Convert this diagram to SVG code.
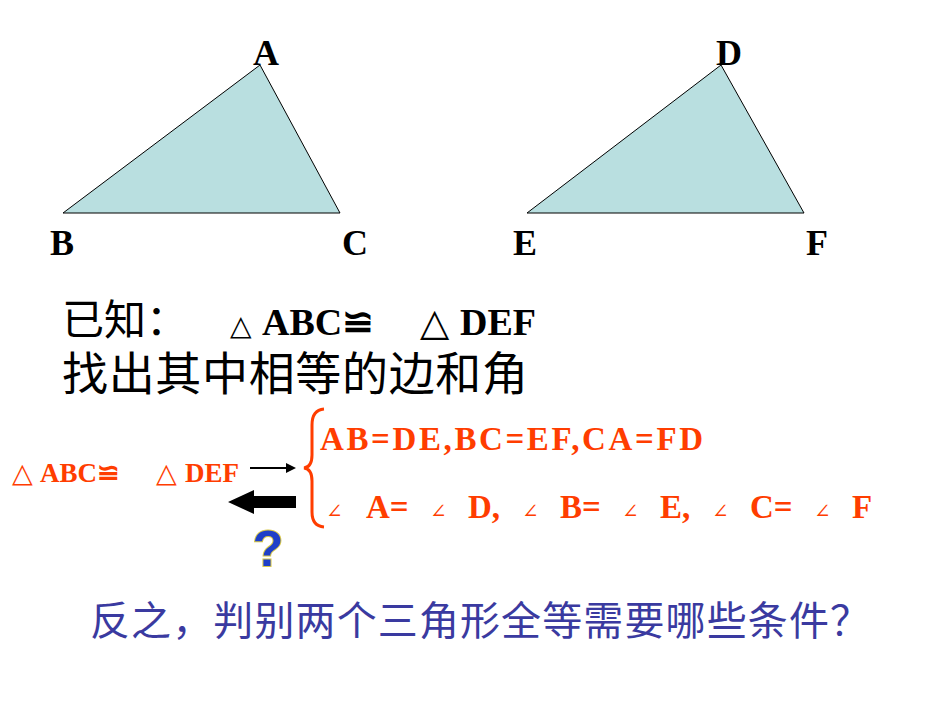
<svg xmlns="http://www.w3.org/2000/svg" width="950" height="713" viewBox="0 0 950 713">
<style>
.tri{fill:#B9DFE0;stroke:#000;stroke-width:1}
.lab{font-family:"Liberation Serif",serif;font-weight:bold;font-size:36px;fill:#000}
.cn{font-family:"Liberation Serif","Noto Sans CJK SC",serif;font-size:42px;fill:#000}
.red{font-family:"Liberation Serif","DejaVu Serif",serif;font-weight:bold;font-size:33px;fill:#FF3D00}
.ang{font-family:"DejaVu Serif",serif;font-size:20px;fill:#FF3D00}
</style>
<rect width="950" height="713" fill="#fff"/>
<g id="triABC"><polygon class="tri" points="260,65 63,213 340,213"/>
<text class="lab" x="253" y="65">A</text><text class="lab" x="50" y="255">B</text><text class="lab" x="342" y="255">C</text></g>
<g id="triDEF"><polygon class="tri" points="721,65 527,213 804,213"/>
<text class="lab" x="716" y="65">D</text><text class="lab" x="513" y="255">E</text><text class="lab" x="806" y="255">F</text></g>
<g id="given">
<text class="cn" x="62" y="335">已知：</text>
<text y="335" style="font-family:'Liberation Serif','DejaVu Serif',serif;font-weight:bold;font-size:38px"><tspan x="230" font-weight="normal" font-size="28">△</tspan><tspan x="262">ABC≌</tspan><tspan x="420" font-weight="normal">△</tspan><tspan x="460">DEF</tspan></text>
<text class="cn" x="62" y="390" textLength="466" style="font-size:46px">找出其中相等的边和角</text>
</g>
<g id="left"><text y="482" style="font-family:'Liberation Serif','DejaVu Serif',serif;font-weight:bold;font-size:27px;fill:#FF3D00"><tspan x="12" font-weight="normal">△</tspan><tspan x="40">ABC≌</tspan><tspan x="156" font-weight="normal">△</tspan><tspan x="185">DEF</tspan></text></g>
<g id="connectors">
<line x1="250" y1="468" x2="288" y2="468" stroke="#000" stroke-width="2"/>
<polygon points="296,468 286,463 286,473" fill="#000"/>
<polygon points="228,502 254,490 254,496 296,496 296,508 254,508 254,514" fill="#000"/>
</g>
<g id="brace"><path d="M324,409 Q312,410 312,425 L312,455 Q312,467 304,468 Q312,469 312,481 L312,512 Q312,526 324,527" fill="none" stroke="#FF3D00" stroke-width="3"/></g>
<g id="eqs">
<text class="red" x="320" y="450" textLength="383">AB=DE,BC=EF,CA=FD</text>
<text y="518"><tspan class="ang" x="326">∠</tspan><tspan class="red" x="366">A=</tspan><tspan class="ang" x="430">∠</tspan><tspan class="red" x="468">D,</tspan><tspan class="ang" x="522">∠</tspan><tspan class="red" x="560">B=</tspan><tspan class="ang" x="622">∠</tspan><tspan class="red" x="660">E,</tspan><tspan class="ang" x="712">∠</tspan><tspan class="red" x="750">C=</tspan><tspan class="ang" x="814">∠</tspan><tspan class="red" x="852">F</tspan></text>
</g>
<g id="question"><text x="268" y="566" text-anchor="middle" style="font-family:'Liberation Sans',sans-serif;font-weight:bold;font-size:50px;fill:#1E3FC8;stroke:#D8C84A;stroke-width:2;paint-order:stroke">?</text></g>
<g id="bottom"><text x="90" y="635" textLength="780" style="font-family:'Liberation Serif','Noto Sans CJK SC',serif;font-size:40px;fill:#3A3AA0">反之，判别两个三角形全等需要哪些条件？</text></g>
</svg>
